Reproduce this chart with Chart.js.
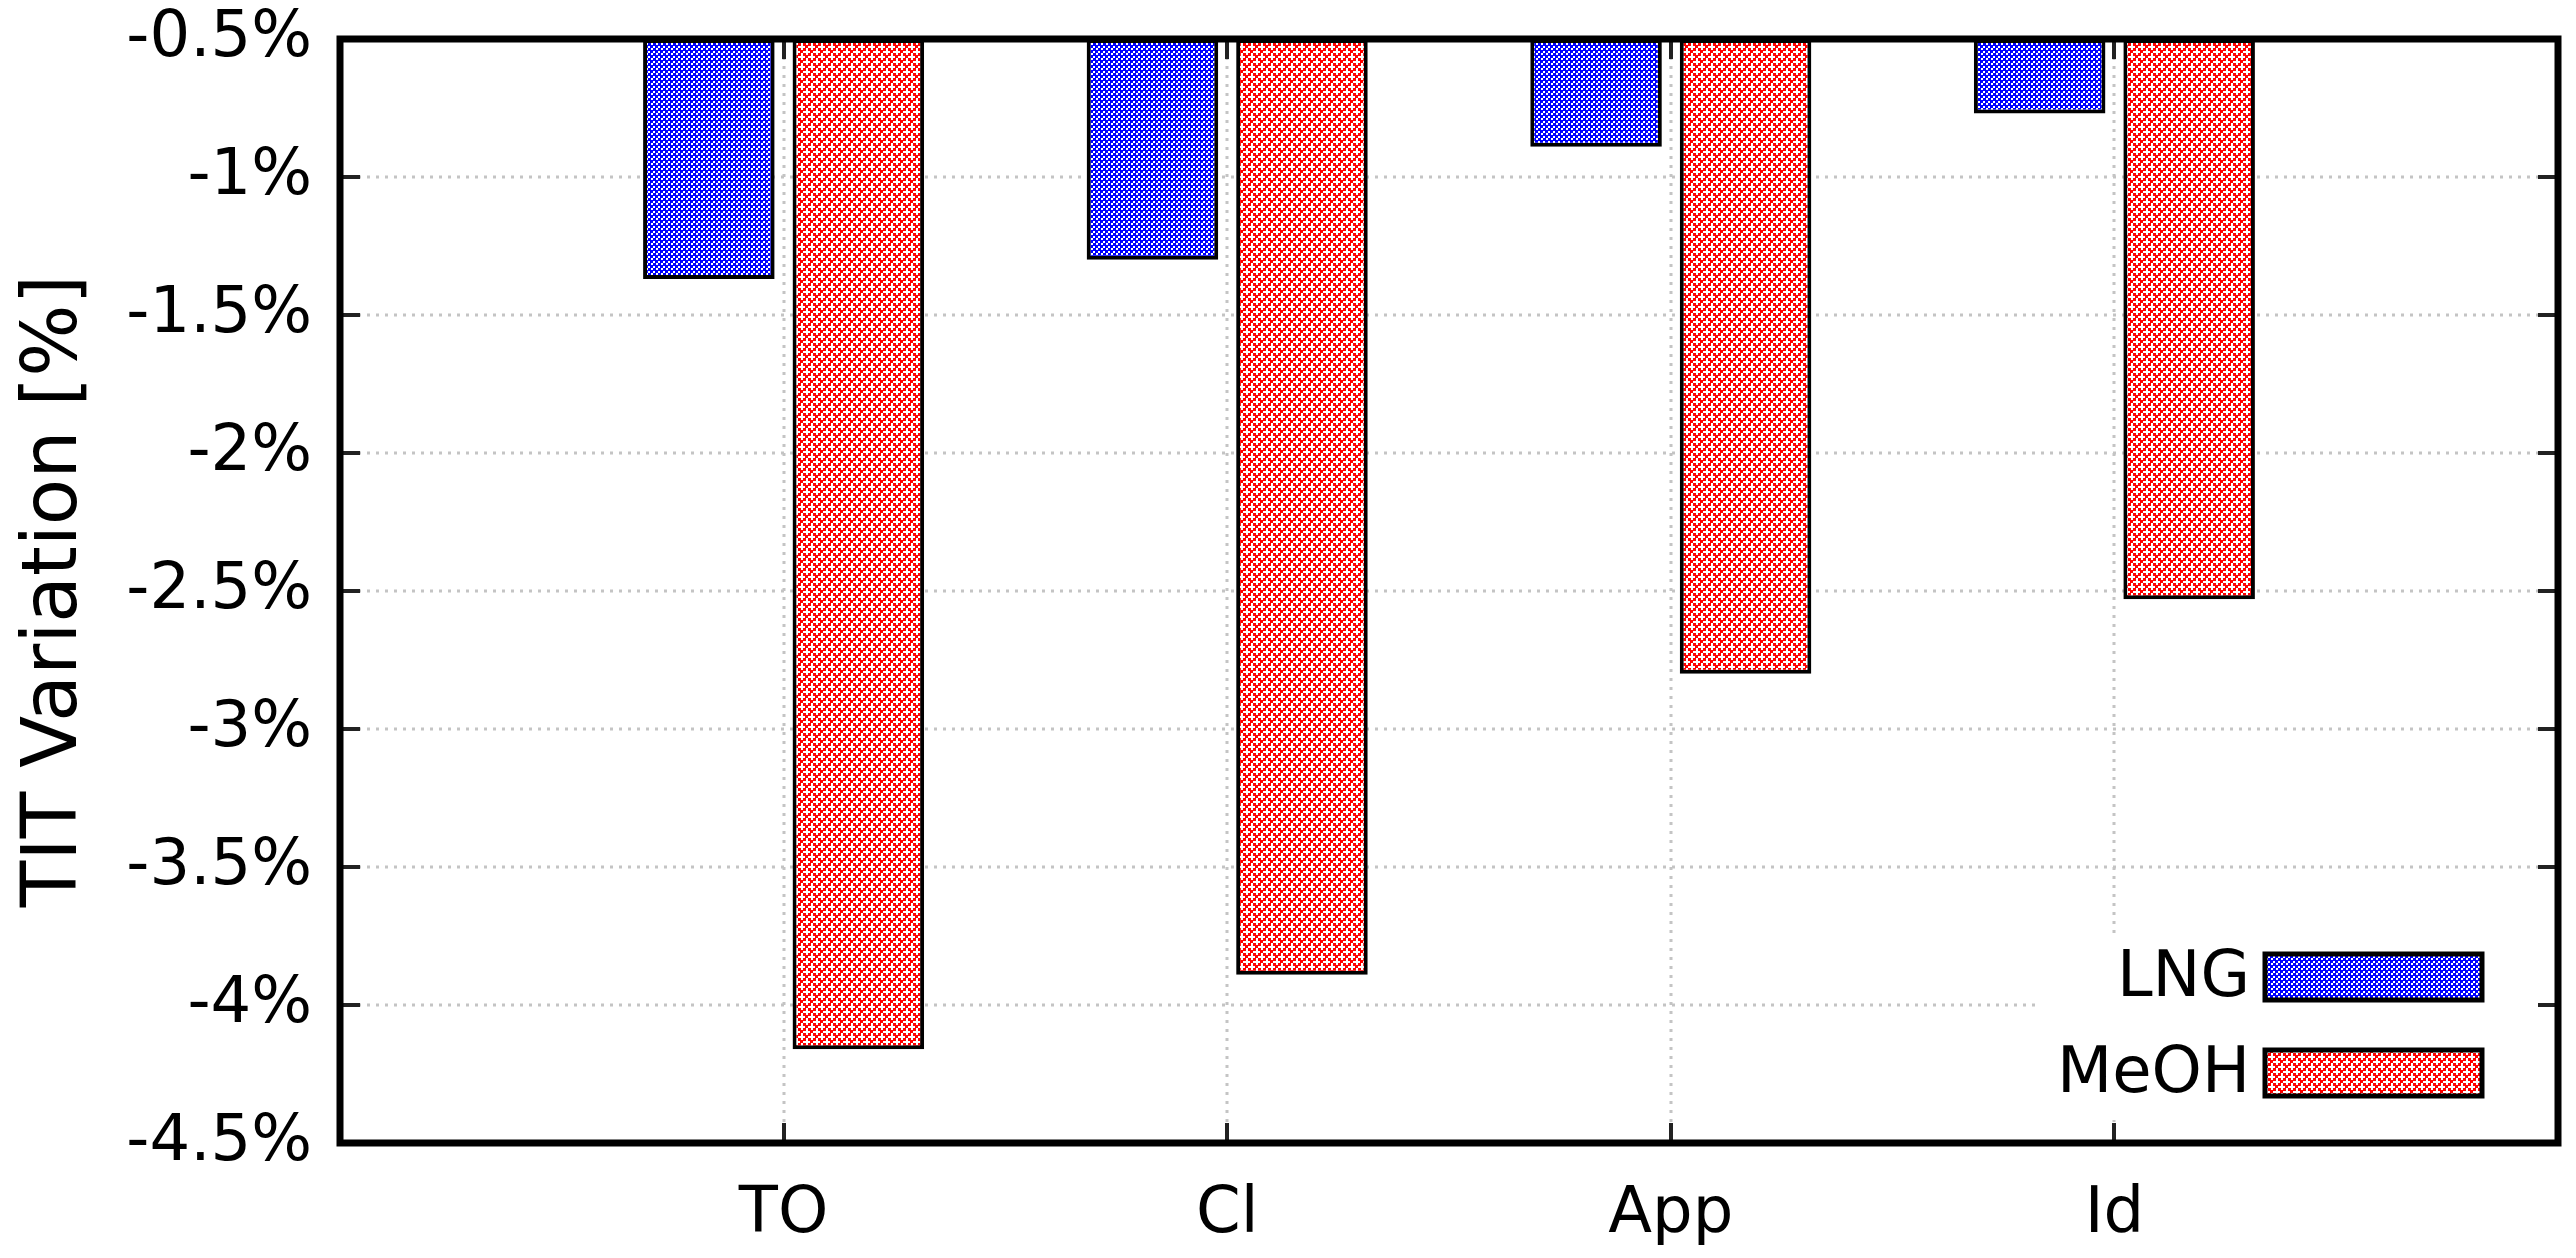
<!DOCTYPE html>
<html>
<head>
<meta charset="utf-8">
<title>TIT Variation</title>
<script src="https://cdn.jsdelivr.net/npm/chart.js@4.4.1/dist/chart.umd.min.js"></script>
<style>
  html, body { margin: 0; padding: 0; background: #fff; }
  canvas { display: block; }
</style>
</head>
<body>
<canvas id="tit-chart" width="2576" height="1258"></canvas>
<script>
// values
const categories = ['TO', 'Cl', 'App', 'Id'];
const lngValues = [-1.37, -1.30, -0.89, -0.77];
const meohValues = [-4.16, -3.89, -2.80, -2.53];
const seriesNames = ['LNG', 'MeOH'];
const yMin = -4.5;
const yMax = -0.5;
const yStep = 0.5;

const FONT = "'DejaVu Sans', 'Liberation Sans', sans-serif";

const canvas = document.getElementById('tit-chart');
const ctx = canvas.getContext('2d');

// gnuplot style pattern fill: grid of 0/1, cells alternate 3,2 px,
// every "on" cell painted as a 3px dot (wraps round the tile)
function makePattern(color, grid) {
    const sizes = [3, 2];
    const dot = 3;
    const offs = n => { let o = 0; for (let i = 0; i < n; i++) o += sizes[i % 2]; return o; };
    const tile = document.createElement('canvas');
    const w = offs(grid[0].length);
    const h = offs(grid.length);
    tile.width = w;
    tile.height = h;
    const t = tile.getContext('2d');
    t.fillStyle = '#fff';
    t.fillRect(0, 0, w, h);
    t.fillStyle = color;
    grid.forEach((row, y) => {
        row.forEach((on, x) => {
            if (!on) return;
            const px = offs(x), py = offs(y);
            [0, -w].forEach(dx => [0, -h].forEach(dy => t.fillRect(px + dx, py + dy, dot, dot)));
        });
    });
    return ctx.createPattern(tile, 'repeat');
}

const bluePattern = makePattern('#0000ff', [[1, 0], [0, 1]]);
const redPattern = makePattern('#ff0000', [
    [1, 0, 0, 0],
    [0, 1, 0, 1],
    [0, 0, 1, 0],
    [0, 1, 0, 1]
]);

// empty slot at both ends, like the gnuplot x range
const labels = ['', ...categories, ''];
const pad = arr => [null, ...arr, null];

// dotted grid under the bars
const gridPlugin = {
    id: 'dottedGrid',
    beforeDatasetsDraw(chart) {
        const { ctx, chartArea: a, scales: { x, y } } = chart;
        ctx.save();
        ctx.strokeStyle = '#c4c4c4';
        ctx.lineWidth = 3;
        ctx.setLineDash([3, 6]);
        y.ticks.forEach(t => {
            if (t.value <= yMin || t.value >= yMax) return;
            const py = Math.round(y.getPixelForValue(t.value));
            ctx.beginPath();
            ctx.moveTo(a.left, py);
            ctx.lineTo(a.right, py);
            ctx.stroke();
        });
        categories.forEach((c, i) => {
            const px = Math.round(x.getPixelForValue(i + 1));
            ctx.beginPath();
            ctx.moveTo(px, a.top);
            ctx.lineTo(px, a.bottom);
            ctx.stroke();
        });
        ctx.restore();
    }
};

// key inside the plot, bottom right, then tics and frame on top
const framePlugin = {
    id: 'frameAndKey',
    afterDatasetsDraw(chart) {
        const { ctx, chartArea: a, scales: { x, y } } = chart;
        ctx.save();

        // key
        ctx.fillStyle = '#fff';
        ctx.fillRect(2035, 935, a.right - 2035, 185);
        ctx.font = '64px ' + FONT;
        ctx.textAlign = 'right';
        ctx.textBaseline = 'middle';
        chart.data.datasets.forEach((ds, i) => {
            const cy = 977 + i * 96;
            ctx.fillStyle = '#000';
            ctx.fillText(ds.label, 2250, cy + 2);
            ctx.fillStyle = ds.backgroundColor;
            ctx.fillRect(2265, cy - 23, 217, 46);
            ctx.strokeStyle = '#000';
            ctx.lineWidth = 5;
            ctx.strokeRect(2265, cy - 23, 217, 46);
        });

        // tics pointing in, mirrored
        ctx.strokeStyle = '#222';
        ctx.lineWidth = 4;
        const tl = 20;
        y.ticks.forEach(t => {
            const py = Math.round(y.getPixelForValue(t.value));
            ctx.beginPath();
            ctx.moveTo(a.left, py);
            ctx.lineTo(a.left + tl, py);
            ctx.moveTo(a.right, py);
            ctx.lineTo(a.right - tl, py);
            ctx.stroke();
        });
        categories.forEach((c, i) => {
            const px = Math.round(x.getPixelForValue(i + 1));
            ctx.beginPath();
            ctx.moveTo(px, a.bottom);
            ctx.lineTo(px, a.bottom - tl);
            ctx.moveTo(px, a.top);
            ctx.lineTo(px, a.top + tl);
            ctx.stroke();
        });

        // border
        ctx.strokeStyle = '#000';
        ctx.lineWidth = 7;
        ctx.strokeRect(a.left, a.top, a.right - a.left, a.bottom - a.top);
        ctx.restore();
    }
};

const barStyle = {
    borderColor: '#000',
    borderWidth: 4,
    borderSkipped: false,
    base: yMax,
    categoryPercentage: 0.674,
    barPercentage: 0.88
};

new Chart(ctx, {
    type: 'bar',
    data: {
        labels: labels,
        datasets: [
            { label: seriesNames[0], data: pad(lngValues), backgroundColor: bluePattern, ...barStyle },
            { label: seriesNames[1], data: pad(meohValues), backgroundColor: redPattern, ...barStyle }
        ]
    },
    options: {
        responsive: false,
        devicePixelRatio: 1,
        animation: false,
        layout: { padding: { left: 0, top: 39, right: 18, bottom: 0 } },
        plugins: {
            legend: { display: false },
            tooltip: { enabled: false }
        },
        scales: {
            x: {
                offset: false,
                grid: { display: false, drawTicks: false },
                border: { display: false },
                ticks: {
                    autoSkip: false,
                    maxRotation: 0,
                    padding: 34,
                    color: '#000',
                    font: { family: FONT, size: 64 }
                },
                afterFit: s => { s.height = 115; s.paddingLeft = 0; s.paddingRight = 0; }
            },
            y: {
                min: yMin,
                max: yMax,
                grid: { display: false, drawTicks: false },
                border: { display: false },
                ticks: {
                    stepSize: yStep,
                    padding: 28,
                    color: '#000',
                    font: { family: FONT, size: 64 },
                    callback: v => `${+v.toFixed(1)}%`
                },
                title: {
                    display: true,
                    text: 'TIT Variation [%]',
                    color: '#000',
                    font: { family: FONT, size: 76 },
                    padding: { top: 11, bottom: 0 }
                },
                afterFit: s => { s.width = 340; s.paddingTop = 0; s.paddingBottom = 0; }
            }
        }
    },
    plugins: [gridPlugin, framePlugin]
});
</script>
</body>
</html>
